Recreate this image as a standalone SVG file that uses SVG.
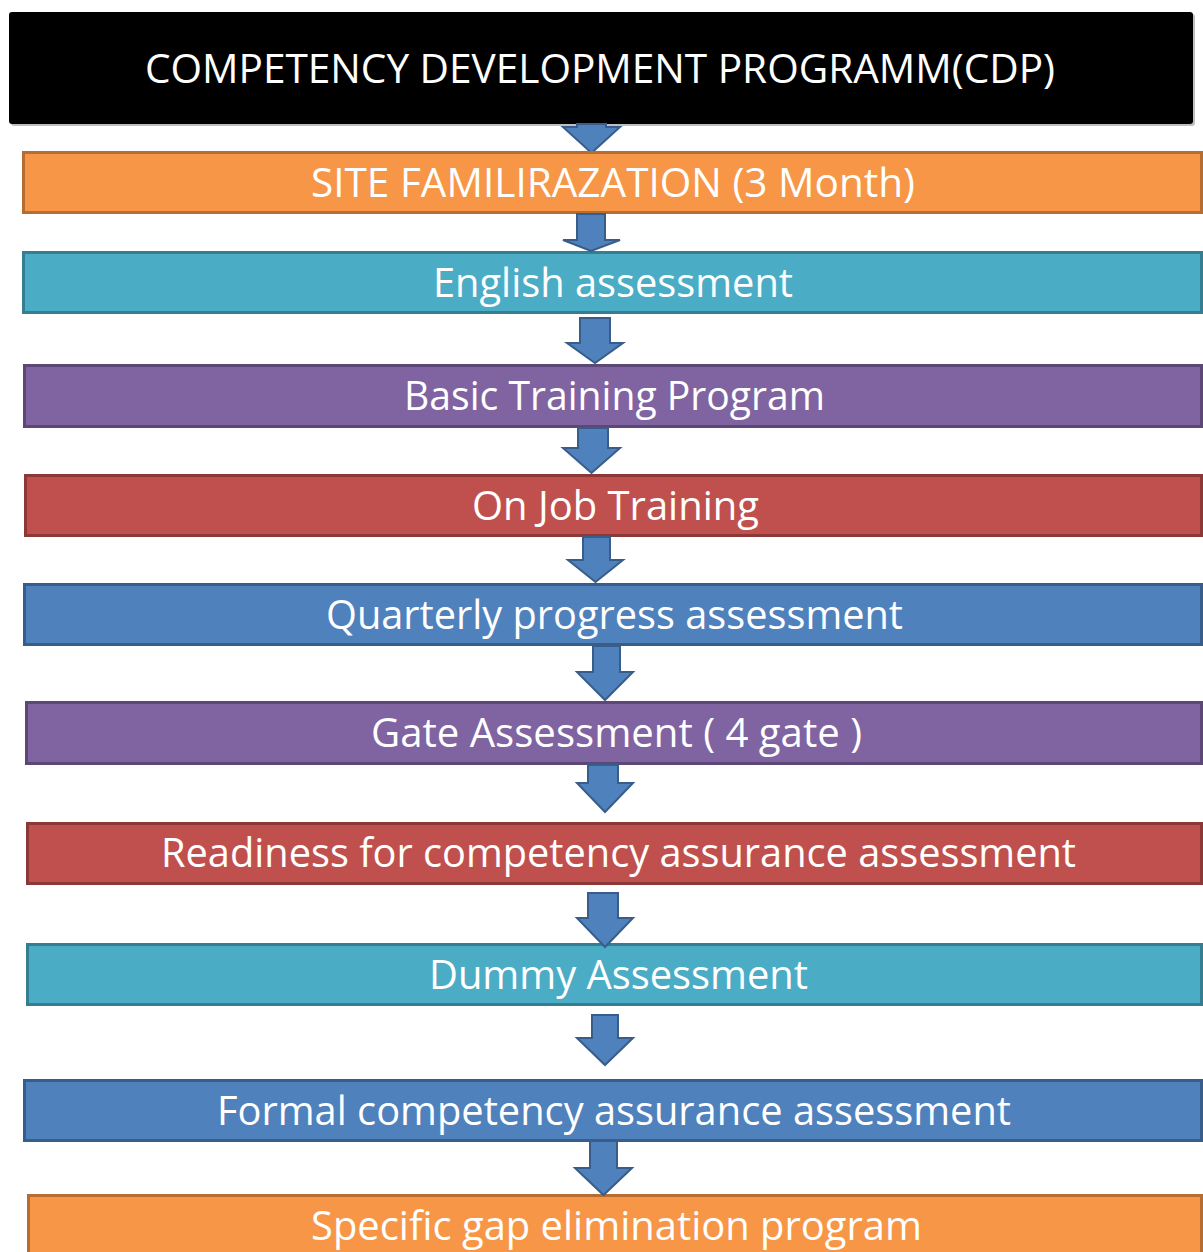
<svg xmlns="http://www.w3.org/2000/svg" width="1203" height="1252" viewBox="0 0 1203 1252">
<style>
.t{font-family:"Open Sans","Noto Sans","Liberation Sans",sans-serif;font-size:41px;fill:#fff;text-anchor:middle}
.box{stroke-width:3}
.or{fill:#f79646;stroke:#b66d31}
.te{fill:#4bacc6;stroke:#357d91}
.pu{fill:#8064a2;stroke:#5c4776}
.re{fill:#c0504d;stroke:#8c3836}
.bl{fill:#4f81bd;stroke:#385d8a}
.ar{fill:#4f81bd;stroke:#385d8a;stroke-width:2;stroke-linejoin:miter}
</style>
<rect width="1203" height="1252" fill="#fff"/>
<g id="header">
<rect x="11" y="14" width="1184" height="112" rx="3" fill="#7f7f7f" opacity="0.5"/>
<rect x="9" y="12" width="1184" height="112" rx="3" fill="#000"/>
<text class="t" x="600" y="83" textLength="910" lengthAdjust="spacingAndGlyphs">COMPETENCY DEVELOPMENT PROGRAMM(CDP)</text>
</g>
<g id="connectors">
<path class="ar" d="M577,124 L606,124 L606,127 L620,127 L591.5,153 L563,127 L577,127 Z"/>
</g>
<g id="n1">
<rect class="box or" x="23.5" y="152.5" width="1178" height="60"/>
<text class="t" x="613" y="197" textLength="604" lengthAdjust="spacingAndGlyphs">SITE FAMILIRAZATION (3 Month)</text>
</g>
<g id="n2">
<rect class="box te" x="23.5" y="252.5" width="1178" height="60"/>
<text class="t" x="613" y="297" textLength="360" lengthAdjust="spacingAndGlyphs">English assessment</text>
</g>
<g id="n3">
<rect class="box pu" x="24.5" y="365.5" width="1177" height="61"/>
<text class="t" x="614.5" y="410" textLength="421" lengthAdjust="spacingAndGlyphs">Basic Training Program</text>
</g>
<g id="n4">
<rect class="box re" x="25.5" y="475.5" width="1176" height="60"/>
<text class="t" x="615.5" y="520" textLength="287" lengthAdjust="spacingAndGlyphs">On Job Training</text>
</g>
<g id="n5">
<rect class="box bl" x="24.5" y="584.5" width="1177" height="60"/>
<text class="t" x="614.5" y="629" textLength="577" lengthAdjust="spacingAndGlyphs">Quarterly progress assessment</text>
</g>
<g id="n6">
<rect class="box pu" x="26.5" y="702.5" width="1175" height="61"/>
<text class="t" x="616.5" y="747" textLength="491" lengthAdjust="spacingAndGlyphs">Gate Assessment ( 4 gate )</text>
</g>
<g id="n7">
<rect class="box re" x="27.5" y="823.5" width="1174" height="60"/>
<text class="t" x="618.5" y="867" textLength="915" lengthAdjust="spacingAndGlyphs">Readiness for competency assurance assessment</text>
</g>
<g id="n8">
<rect class="box te" x="27.5" y="944.5" width="1174" height="60"/>
<text class="t" x="618.5" y="989" textLength="379" lengthAdjust="spacingAndGlyphs">Dummy Assessment</text>
</g>
<g id="n9">
<rect class="box bl" x="24.5" y="1080.5" width="1177" height="60"/>
<text class="t" x="614" y="1125" textLength="794" lengthAdjust="spacingAndGlyphs">Formal competency assurance assessment</text>
</g>
<g id="n10">
<rect class="box or" x="28.5" y="1195.5" width="1173" height="70"/>
<text class="t" x="616.5" y="1240" textLength="611" lengthAdjust="spacingAndGlyphs">Specific gap elimination program</text>
</g>
<g id="connectors2">
<path class="ar" d="M577,214 L605,214 L605,240 L620,240 L591,251 L563,240 L577,240 Z"/>
<path class="ar" d="M580,318 L610,318 L610,343 L623,343 L595,363 L567,343 L580,343 Z"/>
<path class="ar" d="M578,428 L608,428 L608,448 L620,448 L591.5,473 L563,448 L578,448 Z"/>
<path class="ar" d="M583,537 L610,537 L610,560 L623,560 L595.5,582 L568,560 L583,560 Z"/>
<path class="ar" d="M593,646 L620,646 L620,672 L633,672 L605,700 L577,672 L593,672 Z"/>
<path class="ar" d="M588,765 L618,765 L618,783 L633,783 L605,812 L577,783 L588,783 Z"/>
<path class="ar" d="M588,893 L618,893 L618,918 L633,918 L605,947 L577,918 L588,918 Z"/>
<path class="ar" d="M592,1015 L618,1015 L618,1038 L633,1038 L605,1065 L577,1038 L592,1038 Z"/>
<path class="ar" d="M590,1141 L617,1141 L617,1168 L632,1168 L603.5,1195 L575,1168 L590,1168 Z"/>
</g>
</svg>
